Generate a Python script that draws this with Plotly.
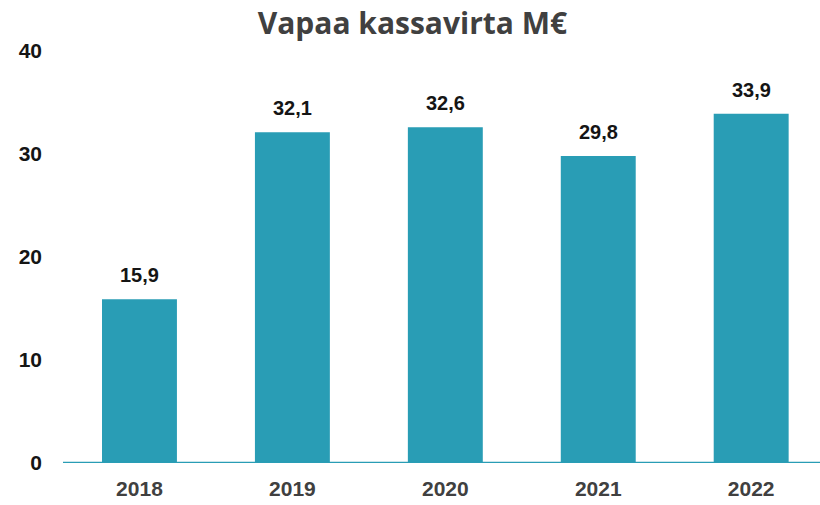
import plotly.graph_objects as go

years = ["2018", "2019", "2020", "2021", "2022"]
values = [15.9, 32.1, 32.6, 29.8, 33.9]
labels = [f"{v:.1f}".replace(".", ",") for v in values]
y_ticks = [0, 10, 20, 30, 40]

teal = "#299db5"

fig = go.Figure(go.Bar(
    x=years, y=values,
    marker=dict(color=teal, line=dict(width=0)),
    width=0.49,
))

for i, (v, lab) in enumerate(zip(values, labels)):
    fig.add_annotation(x=i, y=v, xref="x", yref="y", text=f"<b>{lab}</b>", showarrow=False,
                       yanchor="middle", yshift=24,
                       font=dict(family="Liberation Sans", size=20, color="#151515"))

fig.update_layout(
    width=820, height=505,
    margin=dict(l=63, r=0, t=51, b=42),
    paper_bgcolor="white", plot_bgcolor="white",
    showlegend=False,
    title=dict(text="<b>Vapaa kassavirta M€</b>", x=0.503, xanchor="center", y=0.953, yanchor="middle",
               font=dict(family="Open Sans", size=30, color="#404040")),
    xaxis=dict(type="category", range=[-0.5, 4.45], showgrid=False, showline=False, ticks="",
               tickfont=dict(family="Liberation Sans", size=21, color="#404040", weight="bold"),
               ticklabelstandoff=11, zeroline=False),
    yaxis=dict(range=[0, 40], tickvals=y_ticks, showgrid=False, showline=False, zeroline=False, ticks="",
               tickfont=dict(family="Liberation Sans", size=21, color="#151515", weight="bold"),
               ticklabelstandoff=20),
    shapes=[dict(type="line", xref="paper", yref="y", x0=0, x1=1, y0=0, y1=0,
                 line=dict(color=teal, width=2.5))],
)

fig.write_html("out.html", post_script="document.body.style.margin='0';",
               config={"displayModeBar": False})
